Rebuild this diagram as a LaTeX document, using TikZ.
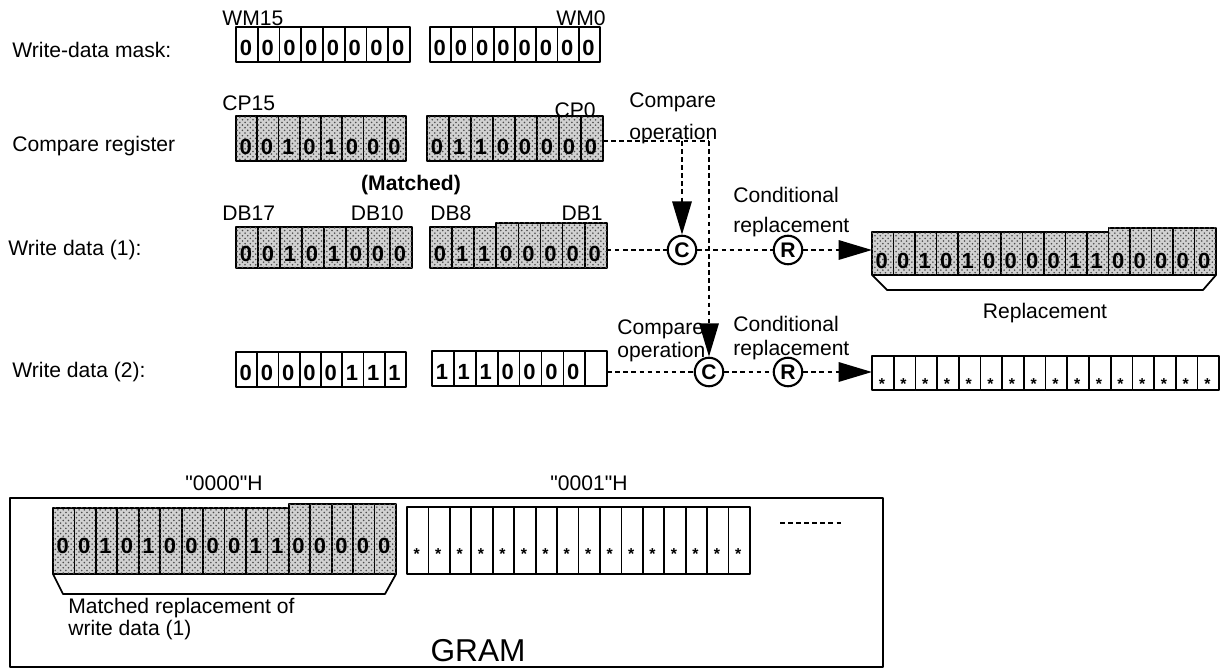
\documentclass[tikz,border=0pt]{standalone}
\usepackage{fontspec}
\setmainfont{Liberation Sans}
\usetikzlibrary{arrows.meta,patterns}

\tikzset{
  txt/.style={font=\fontsize{12pt}{14pt}\selectfont, inner sep=0pt},
  cellplain/.style={draw, line width=1pt, inner sep=0pt, outer sep=0pt},
  cellshade/.style={cellplain, fill=black!18,
    postaction={pattern=crosshatch dots, pattern color=black!70}},
  bit/.style={font=\fontsize{12.5pt}{14pt}\selectfont\bfseries, inner sep=0pt},
  star/.style={font=\fontsize{9pt}{10pt}\selectfont\bfseries, inner sep=0pt, yshift=-3pt},
  flow/.style={line width=1.3pt, dash pattern=on 2.6pt off 2pt},
  op/.style={circle, draw, line width=1.2pt, minimum size=0.57cm, inner sep=0pt,
    font=\fontsize{12pt}{14pt}\selectfont\bfseries},
  bigtip/.style={-{Triangle[length=19pt,width=11pt]}}
}

% 一行寄存器：#1 名称, #2 左边 x, #3 顶边 y, #4 格宽, #5 格高,
% #6 各位, #7 格样式, #8 字样式, #9 从第几格起加高
\newcommand{\bitreg}[9]{%
  \foreach \d [count=\i] in {#6} {
    \pgfmathsetmacro\hh{\i>=#9 ? #5+4 : #5}
    \node[#7, minimum width=#4*0.02cm, minimum height=\hh*0.02cm, anchor=south west]
      (#1-\i) at ({#2+(\i-1)*#4}, #3+#5) {};
    \node[#8, anchor=base] (#1-t\i) at ({#2+(\i-0.5)*#4-1}, #3+#5-6) {\d};
  }%
}

\begin{document}
\begin{tikzpicture}[x=0.02cm, y=-0.02cm, line join=round]
  \useasboundingbox (0,0) rectangle (1225,668);

  % 左侧说明
  \node[txt, anchor=west] (lblmask) at (12,50) {Write-data mask:};
  \node[txt, anchor=west] (lblcp) at (12,146) {Compare register};
  \node[txt, anchor=west] (lblwd1) at (8,250) {Write data (1):};
  \node[txt, anchor=west] (lblwd2) at (12,372) {Write data (2):};

  % 写数据屏蔽
  \bitreg{wm1}{236}{27}{21.75}{35}{0,0,0,0,0,0,0,0}{cellplain}{bit}{99}
  \bitreg{wm2}{430}{27}{21.25}{35}{0,0,0,0,0,0,0,0}{cellplain}{bit}{99}
  \node[txt, anchor=west] (wm15) at (222,18) {WM15};
  \node[txt, anchor=east] (wm0) at (606,18) {WM0};

  % 比较寄存器
  \bitreg{cp1}{236}{116}{21.25}{45}{0,0,1,0,1,0,0,0}{cellshade}{bit}{99}
  \bitreg{cp2}{427}{116}{22}{45}{0,1,1,0,0,0,0,0}{cellshade}{bit}{99}
  \node[txt, anchor=west] (cp15) at (222,103) {CP15};
  \node[txt, anchor=east] (cp0) at (596,110) {CP0};

  % 写数据 (1)
  \node[txt, font=\fontsize{12pt}{14pt}\selectfont\bfseries] (matched) at (411,185) {(Matched)};
  \bitreg{wda}{236}{227}{22}{41}{0,0,1,0,1,0,0,0}{cellshade}{bit}{99}
  \bitreg{wdb}{430}{227}{22.1}{41}{0,1,1,0,0,0,0,0}{cellshade}{bit}{4}
  \node[txt, anchor=west] (db17) at (222,213) {DB17};
  \node[txt, anchor=east] (db10) at (404,213) {DB10};
  \node[txt, anchor=west] (db8) at (430,213) {DB8};
  \node[txt, anchor=east] (db1) at (603,213) {DB1};

  % 写数据 (2)
  \bitreg{wdc}{236}{352}{21.25}{35}{0,0,0,0,0,1,1,1}{cellplain}{bit}{99}
  \bitreg{wdd}{432}{351}{21.9}{35}{1,1,1,0,0,0,0,{}}{cellplain}{bit}{99}

  % 比较与替换
  \node[op] (C1) at (682,250) {C};
  \node[op] (R1) at (788,250) {R};
  \node[op] (C2) at (709,372) {C};
  \node[op] (R2) at (788,372) {R};
  \coordinate (turn) at (709,141);

  \node[txt, anchor=west] (cmpa) at (629,102) {Compare};
  \node[txt, anchor=west] (cmpb) at (629,134) {operation};
  \node[txt, anchor=west] (conda) at (733,195) {Conditional};
  \node[txt, anchor=west] (condb) at (733,227) {replacement};
  \node[txt, anchor=west] (cmpc) at (617,329) {Compare};
  \node[txt, anchor=west] (cmpd) at (617,352) {operation};
  \node[txt, anchor=west] (condc) at (733,324) {Conditional};
  \node[txt, anchor=west] (condd) at (733,350) {replacement};

  \draw[flow] (cp2-8.east |- turn) -- (turn);
  \draw[flow, bigtip] (turn) -- (C2.north);
  \draw[flow, bigtip] (C1 |- turn) -- (C1.north);
  \draw[flow] (wdb-8.east |- C1.west) -- (C1.west);
  \draw[flow] (C1.east) -- (R1.west);
  \draw[flow] (wdd-8.east |- C2.west) -- (C2.west);
  \draw[flow] (C2.east) -- (R2.west);

  % 替换结果
  \bitreg{rpa}{872}{232}{21.5}{43}{0,0,1,0,1,0,0,0,0,1,1,0,0,0,0,0}{cellshade}{bit}{12}
  \bitreg{rpb}{872}{356}{21.7}{34}{*,*,*,*,*,*,*,*,*,*,*,*,*,*,*,*}{cellplain}{star}{99}
  \draw[flow, bigtip] (R1.east) -- (rpa-1.west |- R1.east);
  \draw[flow, bigtip] (R2.east) -- (rpb-1.west |- R2.east);
  \draw[line width=1pt] (rpa-1.south west) -- ++(15,15) -- (1203,290) -- (rpa-16.south east);
  \node[txt] (repl) at (1045,313) {Replacement};

  % GRAM
  \draw[line width=1pt] (10,498) rectangle (883,667);
  \node[txt] (addr0) at (224,483) {\textquotedbl0000\textquotedbl H};
  \node[txt] (addr1) at (589,483) {\textquotedbl0001\textquotedbl H};
  \bitreg{gra}{53}{508}{21.44}{66}{0,0,1,0,1,0,0,0,0,1,1,0,0,0,0,0}{cellshade}{bit, yshift=8pt}{12}
  \bitreg{grb}{407}{507}{21.44}{67}{*,*,*,*,*,*,*,*,*,*,*,*,*,*,*,*}{cellplain}{star, yshift=8pt}{99}
  \draw[line width=1pt] (gra-1.south west) -- ++(10,20) -- (385,594) -- (gra-16.south east);
  \draw[flow] (780,523) -- (843,523);
  \node[txt, anchor=west] (mra) at (68,608) {Matched replacement of};
  \node[txt, anchor=west] (mrb) at (68,630) {write data (1)};
  \node[txt, font=\fontsize{18pt}{20pt}\selectfont] (gram) at (478,651) {GRAM};
\end{tikzpicture}
\end{document}
